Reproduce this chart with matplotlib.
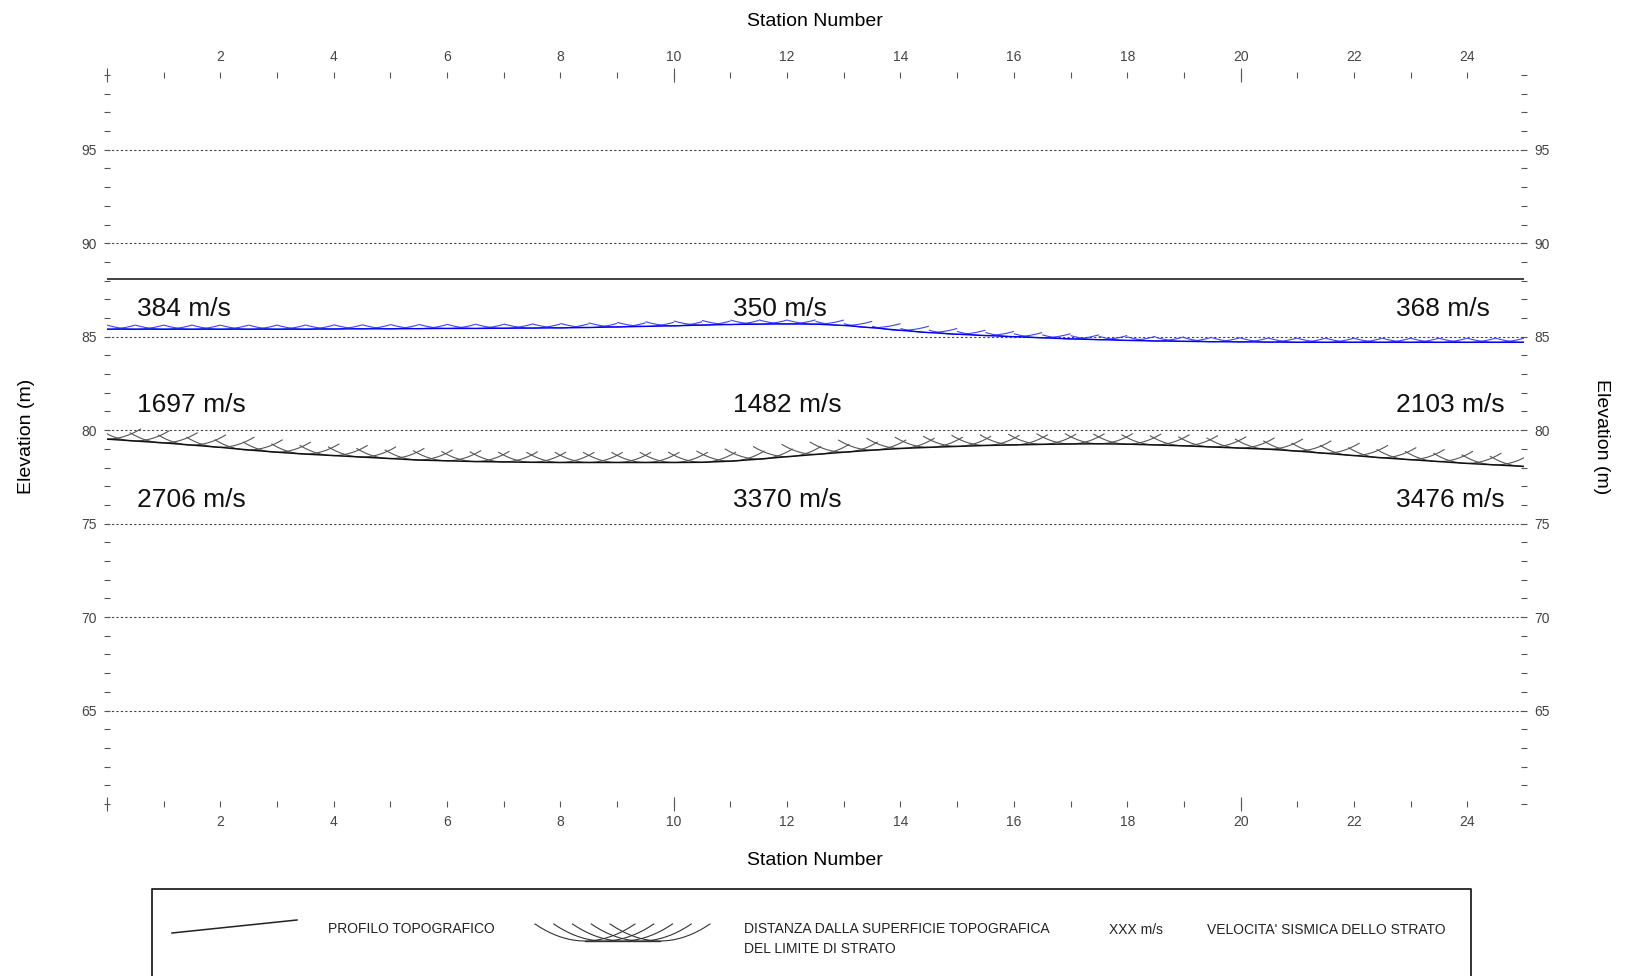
import matplotlib
matplotlib.use("Agg")
import matplotlib.pyplot as plt
import numpy as np
from matplotlib.ticker import FixedLocator, MultipleLocator, FuncFormatter

plt.rcParams["font.family"] = ["Liberation Sans", "DejaVu Sans"]

topo_station = [0, 25]
topo_elev = [88.1, 88.1]

station = [0, 0.5, 1, 1.5, 2, 2.5, 3, 3.5, 4, 4.5, 5, 5.5, 6, 6.5, 7, 7.5,
           8, 8.5, 9, 9.5, 10, 10.5, 11, 11.5, 12, 12.5, 13, 13.5, 14, 14.5,
           15, 15.5, 16, 16.5, 17, 17.5, 18, 18.5, 19, 19.5, 20, 20.5, 21,
           21.5, 22, 22.5, 23, 23.5, 24, 24.5, 25]

layer1_base = [85.40, 85.40, 85.40, 85.40, 85.40, 85.40, 85.40, 85.40, 85.41,
               85.42, 85.42, 85.43, 85.44, 85.44, 85.45, 85.46, 85.47, 85.49,
               85.52, 85.55, 85.58, 85.62, 85.65, 85.67, 85.68, 85.67, 85.60,
               85.48, 85.34, 85.22, 85.13, 85.06, 85.00, 84.94, 84.88, 84.84,
               84.80, 84.77, 84.75, 84.73, 84.72, 84.71, 84.70, 84.70, 84.70,
               84.70, 84.70, 84.70, 84.70, 84.70, 84.70]

layer2_base = [79.52, 79.42, 79.32, 79.20, 79.08, 78.94, 78.82, 78.72, 78.64,
               78.56, 78.48, 78.40, 78.36, 78.32, 78.30, 78.28, 78.27, 78.27,
               78.27, 78.27, 78.27, 78.28, 78.34, 78.45, 78.58, 78.70, 78.82,
               78.93, 79.02, 79.08, 79.13, 79.18, 79.21, 79.24, 79.26, 79.27,
               79.25, 79.21, 79.16, 79.10, 79.04, 78.98, 78.88, 78.76, 78.64,
               78.52, 78.42, 78.32, 78.22, 78.14, 78.06]

vel_labels = [["384 m/s", "350 m/s", "368 m/s"],
              ["1697 m/s", "1482 m/s", "2103 m/s"],
              ["2706 m/s", "3370 m/s", "3476 m/s"]]
vel_label_x = [0.53, 11.05, 22.75]
vel_label_y = [86.47, 81.37, 76.25]

y_major = [65, 70, 75, 80, 85, 90, 95]
x_minor = list(range(1, 25))


def draw_arcs(ax, xs, ys, half_w, rise, color, lw):
    # small arcs whose envelope is the layer boundary
    t = np.linspace(-1, 1, 17)
    for xc, yc in zip(xs, ys):
        ax.plot(xc + half_w * t, yc + rise * t ** 2, color=color, lw=lw,
                solid_capstyle="butt")


fig = plt.figure(figsize=(16.28, 9.76), dpi=100)
ax = fig.add_axes([0.0657, 0.1762, 0.8704, 0.747])

ax.set_xlim(0, 25)
ax.set_ylim(60, 99)
for s in ax.spines.values():
    s.set_visible(False)

# horizontal dotted grid
ax.yaxis.set_major_locator(FixedLocator(y_major))
ax.yaxis.set_minor_locator(MultipleLocator(1))
ax.yaxis.grid(True, which="major", linestyle=(0, (2, 2)), color="#444", lw=0.8)
ax.set_axisbelow(True)

# topography
ax.plot(topo_station, topo_elev, color="#333333", lw=1.3)

# first refractor (blue)
draw_arcs(ax, station, layer1_base, 0.5, 0.22, "#4040ff", 0.8)
ax.plot(station, layer1_base, color="#0000ee", lw=1.0)

# second refractor (black)
draw_arcs(ax, station, layer2_base, 0.6, 0.55, "#555555", 0.8)
ax.plot(station, layer2_base, color="#111111", lw=1.1)

for row, yv in zip(vel_labels, vel_label_y):
    for txt, xv in zip(row, vel_label_x):
        ax.text(xv, yv, txt, fontsize=19, ha="left", va="center", color="#111")

# ticks
ax.xaxis.set_major_locator(FixedLocator([0, 10, 20]))
ax.xaxis.set_minor_locator(FixedLocator(x_minor))
ax.xaxis.remove_overlapping_locs = False
ax.xaxis.set_major_formatter(FuncFormatter(lambda v, p: ""))
ax.xaxis.set_minor_formatter(
    FuncFormatter(lambda v, p: f"{int(round(v))}" if round(v) % 2 == 0 else ""))

ax.tick_params(axis="both", which="both", direction="inout", color="#555",
               labelcolor="#444", labelsize=10, width=0.8)
ax.tick_params(axis="x", which="minor", length=4, top=True, bottom=True,
               labeltop=True, labelbottom=True, pad=6)
ax.tick_params(axis="x", which="major", length=10, top=True, bottom=True,
               labeltop=False, labelbottom=False)
ax.tick_params(axis="y", which="both", length=5, left=True, right=True,
               labelleft=True, labelright=True, pad=5)

# axis titles
fig.text(0.5006, 0.978, "Station Number", fontsize=14, ha="center", va="center")
fig.text(0.5006, 0.118, "Station Number", fontsize=14, ha="center", va="center")
fig.text(0.0165, 0.553, "Elevation (m)", fontsize=14, ha="center", va="center",
         rotation=90)
fig.text(0.984, 0.553, "Elevation (m)", fontsize=14, ha="center", va="center",
         rotation=-90)

# ---- legend box (drawn in figure pixels) ----
lg = fig.add_axes([0, 0, 1, 1], facecolor="none")
lg.set_xlim(0, 1628)
lg.set_ylim(976, 0)
lg.axis("off")
lg.plot([152, 152, 1471, 1471], [990, 889, 889, 990], color="#222", lw=1.3)

lg.plot([172, 297], [933, 920], color="#222", lw=1.1)
lg_size = 10
lg.text(328, 929, "PROFILO TOPOGRAFICO", fontsize=lg_size,
        ha="left", va="center", color="#222")

# arc fan sample
ta = np.linspace(-1, 1, 21)
for xc in np.linspace(585, 660, 5):
    lg.plot(xc + 50 * ta, 941 - 17 * ta ** 2, color="#333", lw=0.8)
lg.plot([585, 660], [941, 941], color="#333", lw=1.0)

lg.text(744, 929, "DISTANZA DALLA SUPERFICIE TOPOGRAFICA", fontsize=lg_size,
        ha="left", va="center", color="#222")
lg.text(744, 949, "DEL LIMITE DI STRATO", fontsize=lg_size,
        ha="left", va="center", color="#222")
lg.text(1109, 930, "XXX m/s", fontsize=lg_size, ha="left",
        va="center", color="#222")
lg.text(1207, 930, "VELOCITA' SISMICA DELLO STRATO", fontsize=lg_size,
        ha="left", va="center", color="#222")

fig.savefig("out.png", dpi=100)
plt.close(fig)
